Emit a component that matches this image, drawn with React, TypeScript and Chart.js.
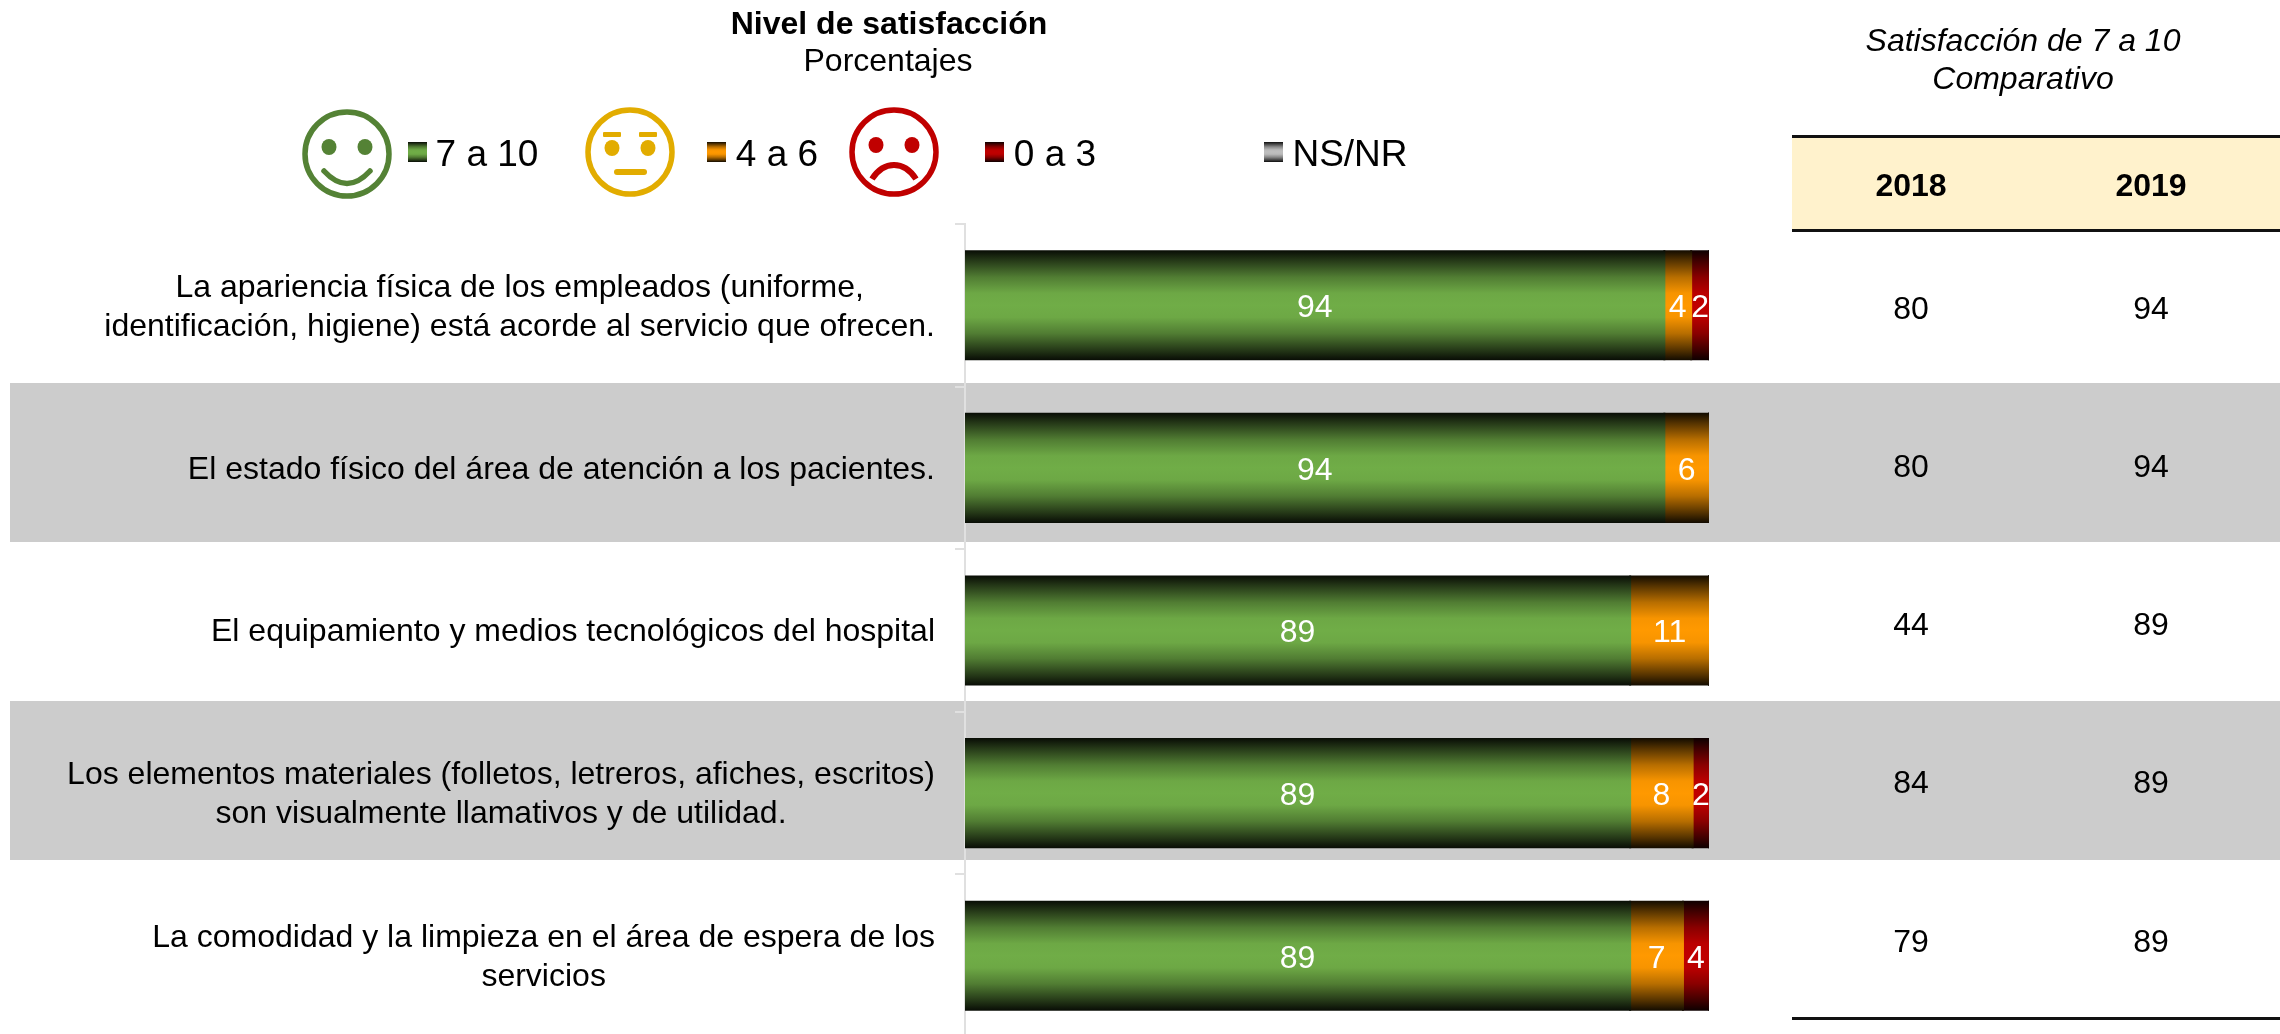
import React, { useEffect, useRef } from "react";
import { Chart, registerables } from "chart.js";

Chart.register(...registerables);

const FONT = '"Liberation Sans", Arial, sans-serif';

const categories: string[][] = [
  ["La apariencia física de los empleados (uniforme,", "identificación, higiene) está acorde al servicio que ofrecen."],
  ["El estado físico del área de atención a los pacientes."],
  ["El equipamiento y medios tecnológicos del hospital"],
  ["Los elementos materiales (folletos, letreros, afiches, escritos)", "son visualmente llamativos y de utilidad."],
  ["La comodidad y la limpieza en el área de espera de los", "servicios"],
];
const high = [94, 94, 89.4, 89.4, 89.4];
const mid = [3.6, 6, 10.6, 8.4, 7.1];
const low = [2.4, 0, 0, 2.2, 3.5];
const none = [0, 0, 0, 0, 0];
const seriesNames = ["7 a 10", "4 a 6", "0 a 3", "NS/NR"];
const seriesColors = ["#70AD47", "#FF9900", "#C00000", "#BFBFBF"];
const years = ["2018", "2019"];
const values2018 = [80, 80, 44, 84, 79];
const values2019 = [94, 94, 89, 89, 89];

function mix(hex: string, f: number) {
  const n = parseInt(hex.slice(1), 16);
  const r = Math.round(((n >> 16) & 255) * f);
  const g = Math.round(((n >> 8) & 255) * f);
  const b = Math.round((n & 255) * f);
  return `rgb(${r},${g},${b})`;
}
const STOPS: [number, number][] = [
  [0, 0.07], [0.09, 0.32], [0.245, 0.72], [0.39, 0.97], [0.5, 1],
  [0.61, 0.97], [0.755, 0.72], [0.91, 0.32], [1, 0.07],
];
function cssGradient(hex: string) {
  return `linear-gradient(to bottom, ${STOPS.map(([p, f]) => `${mix(hex, f)} ${p * 100}%`).join(", ")})`;
}
const BAR_SHARE = 0.665;
function barGradient(hex: string) {
  return (ctx: any) => {
    const { chart, dataIndex } = ctx;
    const y = chart.scales.y;
    if (!y || dataIndex === undefined) return hex;
    const c = y.getPixelForValue(dataIndex);
    const half = ((y.height / categories.length) * BAR_SHARE) / 2 + 1;
    if (!isFinite(c) || !isFinite(half) || half <= 0) return hex;
    const g = chart.ctx.createLinearGradient(0, c - half, 0, c + half);
    STOPS.forEach(([p, f]) => g.addColorStop(p, mix(hex, f)));
    return g;
  };
}

const barLabels = {
  id: "barLabels",
  afterDatasetsDraw(chart: any) {
    const { ctx } = chart;
    ctx.save();
    ctx.font = `32px ${FONT}`;
    ctx.fillStyle = "#fff";
    ctx.textAlign = "center";
    ctx.textBaseline = "middle";
    chart.data.datasets.forEach((ds: any, i: number) => {
      chart.getDatasetMeta(i).data.forEach((bar: any, j: number) => {
        if (!ds.data[j]) return;
        ctx.fillText(String(Math.round(ds.data[j])), (bar.x + bar.base) / 2, bar.y + 3);
      });
    });
    ctx.restore();
  },
};

const axisLabels = {
  id: "axisLabels",
  afterDraw(chart: any) {
    const { ctx } = chart;
    const y = chart.scales.y;
    const right = 935;
    const lh = 39;
    ctx.save();
    ctx.font = `32px ${FONT}`;
    ctx.fillStyle = "#000";
    ctx.textAlign = "center";
    ctx.textBaseline = "middle";
    categories.forEach((lines, i) => {
      const w = Math.max(...lines.map((l) => ctx.measureText(l).width));
      const c = y.getPixelForValue(i) + 2;
      lines.forEach((l, k) => {
        ctx.fillText(l, right - w / 2, c + (k - (lines.length - 1) / 2) * lh);
      });
    });
    ctx.restore();
  },
};

const Txt = ({ x, y, size = 32, bold = false, italic = false, children }: any) => (
  <div
    style={{
      position: "absolute", left: x, top: y, transform: "translate(-50%,-50%)",
      fontFamily: FONT, fontSize: size, fontWeight: bold ? 700 : 400,
      fontStyle: italic ? "italic" : "normal", color: "#000", whiteSpace: "nowrap", lineHeight: 1, zIndex: 3,
    }}
  >
    {children}
  </div>
);

const Face = ({ x, y, color, kind }: any) => (
  <svg style={{ position: "absolute", left: x, top: y, zIndex: 3 }} width={90} height={90} viewBox="0 0 90 90">
    <circle cx={45} cy={45} r={42} fill="#fff" stroke={color} strokeWidth={5.5} />
    <ellipse cx={27} cy={kind === "mid" ? 41 : 38} rx={7.5} ry={8} fill={color} />
    <ellipse cx={63} cy={kind === "mid" ? 41 : 38} rx={7.5} ry={8} fill={color} />
    {kind === "good" && <path d="M22 62 Q45 87 68 62" fill="none" stroke={color} strokeWidth={5.5} strokeLinecap="round" />}
    {kind === "mid" && (
      <>
        <rect x={18} y={25} width={18} height={5} rx={1} fill={color} />
        <rect x={54} y={25} width={18} height={5} rx={1} fill={color} />
        <rect x={29} y={62} width={33} height={6} rx={3} fill={color} />
      </>
    )}
    {kind === "bad" && <path d="M23 72 Q32 58 45 58 Q58 58 67 72" fill="none" stroke={color} strokeWidth={6} />}
  </svg>
);

const swatchX = [408, 707, 985, 1264];
const textX = [487, 777, 1055, 1350];
const faces = [
  { x: 302, y: 109, color: "#548235", kind: "good" },
  { x: 585, y: 107, color: "#E2AC00", kind: "mid" },
  { x: 849, y: 107, color: "#C00000", kind: "bad" },
];
const rowY = [308, 466, 624, 782, 941];
const bands = [
  { top: 383, bottom: 542 },
  { top: 701, bottom: 860 },
];

export default function App() {
  const ref = useRef<HTMLCanvasElement>(null);
  useEffect(() => {
    document.body.style.margin = "0";
    const sets = [high, mid, low, none];
    const chart = new Chart(ref.current!, {
      type: "bar",
      data: {
        labels: categories,
        datasets: sets.map((data, i) => ({
          label: seriesNames[i],
          data,
          backgroundColor: barGradient(seriesColors[i]),
          borderWidth: 0,
          inflateAmount: 1,
          categoryPercentage: 1,
          barPercentage: BAR_SHARE,
        })),
      },
      options: {
        indexAxis: "y",
        responsive: false,
        animation: false,
        devicePixelRatio: 1,
        layout: { padding: { top: 224, right: 571, left: 0, bottom: 0 } },
        plugins: { legend: { display: false }, title: { display: false }, tooltip: { enabled: false } },
        scales: {
          x: { stacked: true, min: 0, max: 100, display: false },
          y: {
            stacked: true,
            ticks: { display: false },
            border: { color: "#E0E0E0", width: 2 },
            grid: { drawOnChartArea: false, color: "#E0E0E0", lineWidth: 2, tickLength: 10, offset: true },
            afterFit: (s: any) => { s.width = 965; },
          },
        },
      } as any,
      plugins: [barLabels, axisLabels],
    });
    return () => chart.destroy();
  }, []);

  return (
    <div style={{ position: "relative", width: 2280, height: 1034, overflow: "hidden", background: "#fff" }}>
      {bands.map((b, i) => (
        <div key={i} style={{ position: "absolute", left: 10, right: 0, top: b.top, height: b.bottom - b.top, background: "#CCCCCC" }} />
      ))}
      <canvas ref={ref} width={2280} height={1037} style={{ position: "absolute", left: 0, top: 0, zIndex: 2 }} />

      <Txt x={889} y={23} bold>Nivel de satisfacción</Txt>
      <Txt x={888} y={60}>Porcentajes</Txt>
      <Txt x={2023} y={40} italic>Satisfacción de 7 a 10</Txt>
      <Txt x={2023} y={78} italic>Comparativo</Txt>

      {faces.map((f, i) => <Face key={i} {...f} />)}
      {seriesNames.map((n, i) => (
        <React.Fragment key={n}>
          <div style={{ position: "absolute", left: swatchX[i], top: 142, width: 19, height: 20, background: cssGradient(seriesColors[i]), zIndex: 3 }} />
          <Txt x={textX[i]} y={153} size={37}>{n}</Txt>
        </React.Fragment>
      ))}

      <div style={{ position: "absolute", left: 1792, right: 0, top: 135, height: 97, boxSizing: "border-box", background: "#FFF2CC", borderTop: "3px solid #111", borderBottom: "3px solid #111", zIndex: 1 }} />
      <Txt x={1911} y={185} bold>{years[0]}</Txt>
      <Txt x={2151} y={185} bold>{years[1]}</Txt>
      {rowY.map((y, i) => (
        <React.Fragment key={i}>
          <Txt x={1911} y={y}>{values2018[i]}</Txt>
          <Txt x={2151} y={y}>{values2019[i]}</Txt>
        </React.Fragment>
      ))}
      <div style={{ position: "absolute", left: 1792, right: 0, top: 1017, height: 3, background: "#111", zIndex: 3 }} />
    </div>
  );
}
